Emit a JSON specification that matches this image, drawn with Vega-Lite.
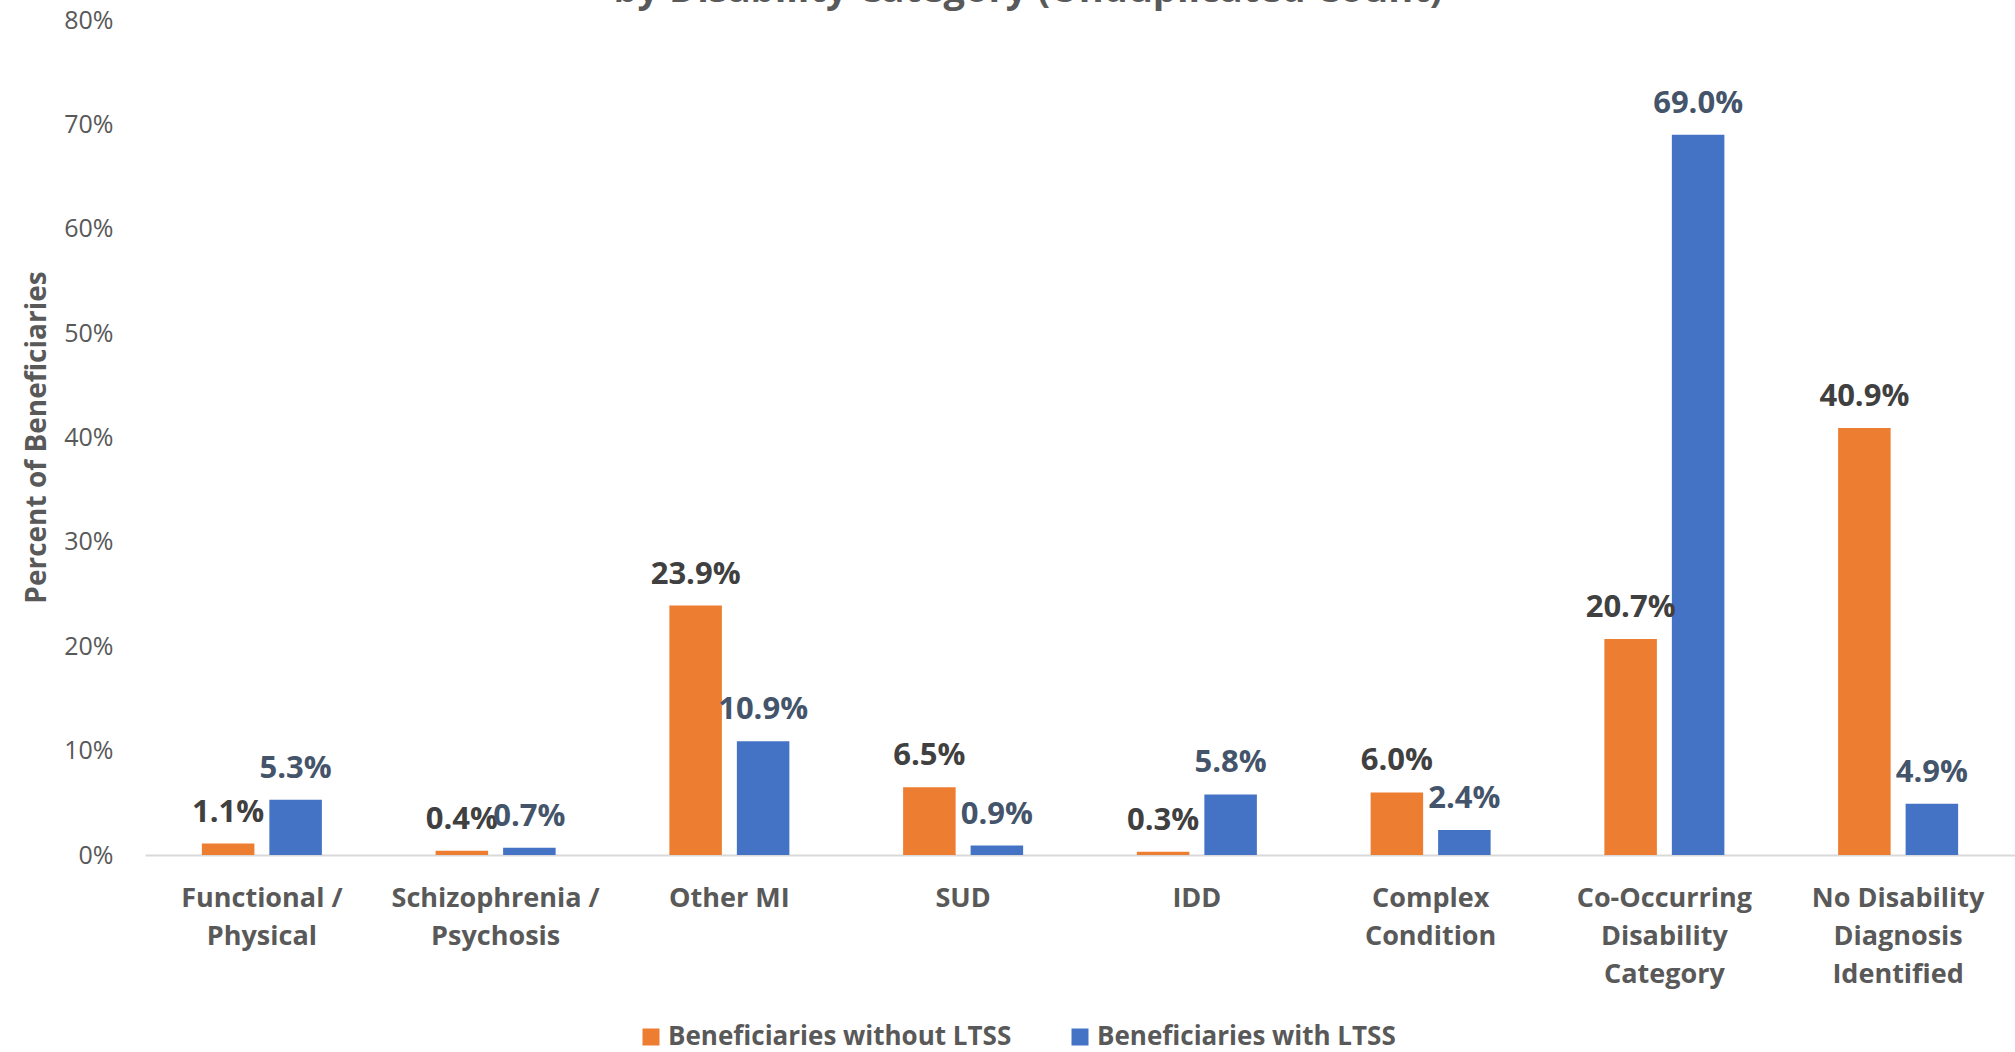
{
  "$schema": "https://vega.github.io/schema/vega-lite/v6.json",
  "autosize": {"type": "none"},
  "width": 1870,
  "height": 835,
  "padding": {"left": 145, "top": 20, "right": 0, "bottom": 197},
  "background": "white",
  "config": {"view": {"stroke": null}, "font": "Open Sans"},
  "title": {
    "text": "by Disability Category (Unduplicated Count)",
    "font": "Open Sans",
    "fontSize": 38,
    "fontWeight": "bold",
    "color": "#595959",
    "anchor": "middle",
    "baseline": "alphabetic",
    "offset": -32,
    "dx": -52
  },
  "data": {
    "values": [
      {"category": "Functional / Physical", "series": "Beneficiaries without LTSS", "value": 0.011},
      {"category": "Functional / Physical", "series": "Beneficiaries with LTSS", "value": 0.053},
      {"category": "Schizophrenia / Psychosis", "series": "Beneficiaries without LTSS", "value": 0.004},
      {"category": "Schizophrenia / Psychosis", "series": "Beneficiaries with LTSS", "value": 0.007},
      {"category": "Other MI", "series": "Beneficiaries without LTSS", "value": 0.239},
      {"category": "Other MI", "series": "Beneficiaries with LTSS", "value": 0.109},
      {"category": "SUD", "series": "Beneficiaries without LTSS", "value": 0.065},
      {"category": "SUD", "series": "Beneficiaries with LTSS", "value": 0.009},
      {"category": "IDD", "series": "Beneficiaries without LTSS", "value": 0.003},
      {"category": "IDD", "series": "Beneficiaries with LTSS", "value": 0.058},
      {"category": "Complex Condition", "series": "Beneficiaries without LTSS", "value": 0.060},
      {"category": "Complex Condition", "series": "Beneficiaries with LTSS", "value": 0.024},
      {"category": "Co-Occurring Disability Category", "series": "Beneficiaries without LTSS", "value": 0.207},
      {"category": "Co-Occurring Disability Category", "series": "Beneficiaries with LTSS", "value": 0.690},
      {"category": "No Disability Diagnosis Identified", "series": "Beneficiaries without LTSS", "value": 0.409},
      {"category": "No Disability Diagnosis Identified", "series": "Beneficiaries with LTSS", "value": 0.049}
    ]
  },
  "encoding": {
    "x": {
      "field": "category",
      "type": "nominal",
      "sort": null,
      "scale": {"paddingInner": 0.4866, "paddingOuter": 0.2433},
      "axis": {
        "title": null,
        "domainColor": "#D9D9D9",
        "domainWidth": 2,
        "ticks": false,
        "tickSize": 0,
        "labelAngle": 0,
        "labelPadding": 30,
        "labelFont": "Open Sans",
        "labelFontSize": 27,
        "labelFontWeight": "bold",
        "labelColor": "#595959",
        "labelLineHeight": 38,
        "labelLimit": 0,
        "labelOverlap": false,
        "labelBaseline": "top",
        "labelExpr": "datum.value == 'Functional / Physical' ? ['Functional /', 'Physical'] : datum.value == 'Schizophrenia / Psychosis' ? ['Schizophrenia /', 'Psychosis'] : datum.value == 'Complex Condition' ? ['Complex', 'Condition'] : datum.value == 'Co-Occurring Disability Category' ? ['Co-Occurring', 'Disability', 'Category'] : datum.value == 'No Disability Diagnosis Identified' ? ['No Disability', 'Diagnosis', 'Identified'] : datum.value"
      }
    },
    "xOffset": {
      "field": "series",
      "type": "nominal",
      "sort": ["Beneficiaries without LTSS", "Beneficiaries with LTSS"],
      "scale": {"paddingInner": 0.222, "paddingOuter": 0}
    },
    "y": {
      "field": "value",
      "type": "quantitative",
      "scale": {"domain": [0, 0.8], "nice": false},
      "axis": {
        "format": ".0%",
        "values": [0, 0.1, 0.2, 0.3, 0.4, 0.5, 0.6, 0.7, 0.8],
        "domain": false,
        "grid": false,
        "ticks": false,
        "tickSize": 0,
        "labelPadding": 32,
        "labelFont": "Open Sans",
        "labelFontSize": 25,
        "labelColor": "#595959",
        "title": "Percent of Beneficiaries",
        "titleFont": "Open Sans",
        "titleFontSize": 28,
        "titleFontWeight": "bold",
        "titleColor": "#595959",
        "titleAngle": -90,
        "titleBaseline": "alphabetic",
        "titleAlign": "center",
        "titleX": -100,
        "titleY": 417
      }
    }
  },
  "layer": [
    {
      "mark": {"type": "bar"},
      "encoding": {
        "color": {
          "field": "series",
          "type": "nominal",
          "scale": {"domain": ["Beneficiaries without LTSS", "Beneficiaries with LTSS"], "range": ["#ED7D31", "#4472C4"]},
          "legend": {
            "title": null,
            "orient": "none",
            "direction": "horizontal",
            "legendX": 493,
            "legendY": 1004,
            "symbolType": "square",
            "symbolSize": 289,
            "symbolStrokeWidth": 0,
            "labelFont": "Open Sans",
            "labelFontSize": 26,
            "labelFontWeight": "bold",
            "labelColor": "#595959",
            "labelLimit": 600,
            "labelOffset": 4,
            "columnPadding": 55
          }
        }
      }
    },
    {
      "mark": {"type": "text", "baseline": "alphabetic", "dy": -22, "font": "Open Sans", "fontSize": 31, "fontWeight": "bold"},
      "encoding": {
        "text": {"field": "value", "type": "quantitative", "format": ".1%"},
        "color": {
          "field": "series",
          "type": "nominal",
          "scale": {"domain": ["Beneficiaries without LTSS", "Beneficiaries with LTSS"], "range": ["#404040", "#44546A"]},
          "legend": null
        }
      }
    }
  ],
  "resolve": {"scale": {"color": "independent"}}
}
